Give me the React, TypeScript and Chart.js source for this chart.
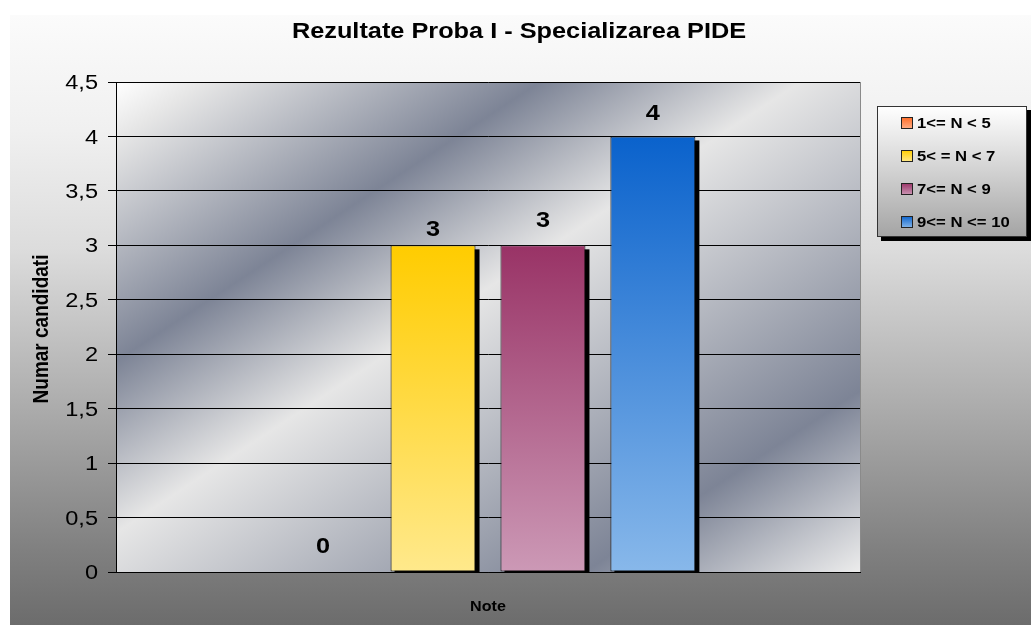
import React, { useEffect, useRef } from "react";
import { Chart, registerables } from "chart.js";

Chart.register(...registerables);

// ---- data ----
const categories = ["Note"];
const seriesLabels = ["1<= N < 5", "5< = N < 7", "7<= N < 9", "9<= N <= 10"];
const seriesValues = [0, 3, 3, 4];
const yMin = 0;
const yMax = 4.5;
const yStep = 0.5;
const titleText = "Rezultate Proba I - Specializarea PIDE";
const yTitleText = "Numar candidati";
const xTitleText = "Note";

// ---- styles ----
const topColors = ["#ff6a24", "#ffcc00", "#993366", "#0a62cc"];
const bottomColors = ["#ffb08a", "#ffe98c", "#cc99b6", "#88b8ea"];
const labelOffsets = [25, 15, 24, 23];
const FONT = '"Liberation Sans", Arial, sans-serif';
const SX = 1.15; // horizontal stretch of the reference text

function stretchedText(
  ctx: CanvasRenderingContext2D,
  text: string,
  x: number,
  y: number,
  font: string,
  align: CanvasTextAlign,
  color = "#000"
) {
  ctx.save();
  ctx.translate(x, y);
  ctx.scale(SX, 1);
  ctx.font = font;
  ctx.fillStyle = color;
  ctx.textAlign = align;
  ctx.textBaseline = "middle";
  ctx.fillText(text, 0, 0);
  ctx.restore();
}

const decorPlugin = {
  id: "decor",
  beforeDraw(chart: any) {
    const ctx: CanvasRenderingContext2D = chart.ctx;
    const W = chart.width;
    const H = chart.height;
    ctx.save();
    ctx.fillStyle = "#ffffff";
    ctx.fillRect(0, 0, W, H);
    const og = ctx.createLinearGradient(0, 15, 0, H);
    og.addColorStop(0, "#fbfbfb");
    og.addColorStop((130 - 15) / (H - 15), "#f0f0f0");
    og.addColorStop((250 - 15) / (H - 15), "#dcdcdc");
    og.addColorStop((550 - 15) / (H - 15), "#808080");
    og.addColorStop(1, "#6c6c6c");
    ctx.fillStyle = og;
    ctx.fillRect(10, 15, W - 10, H - 15);
    const { left, top, right, bottom } = chart.chartArea;
    ctx.translate(left, top);
    ctx.scale(right - left, bottom - top);
    const pg = ctx.createLinearGradient(0, 0, 1, 1);
    pg.addColorStop(0, "#ffffff");
    pg.addColorStop(0.06, "#e6e6e6");
    pg.addColorStop(0.285, "#7d8496");
    pg.addColorStop(0.46, "#e6e6e6");
    pg.addColorStop(0.815, "#7d8496");
    pg.addColorStop(1, "#ececec");
    ctx.fillStyle = pg;
    ctx.fillRect(0, 0, 1, 1);
    ctx.restore();
  },
  beforeDatasetsDraw(chart: any) {
    const ctx: CanvasRenderingContext2D = chart.ctx;
    const { left, top, right, bottom } = chart.chartArea;
    ctx.save();
    ctx.beginPath();
    ctx.rect(left, top, right - left, bottom - top);
    ctx.clip();
    ctx.fillStyle = "#000";
    chart.data.datasets.forEach((ds: any, i: number) => {
      const meta = chart.getDatasetMeta(i);
      meta.data.forEach((bar: any, j: number) => {
        if (!ds.data[j]) return;
        const p = bar.getProps(["x", "y", "base", "width"], true);
        ctx.fillRect(p.x - p.width / 2 + 4, p.y + 4, p.width, p.base - p.y);
      });
    });
    ctx.restore();
  },
  afterDatasetsDraw(chart: any) {
    const ctx: CanvasRenderingContext2D = chart.ctx;
    const { top, right, bottom } = chart.chartArea;
    ctx.save();
    ctx.strokeStyle = "#8a8a8a";
    ctx.lineWidth = 1;
    ctx.beginPath();
    ctx.moveTo(Math.round(right) + 0.5, top);
    ctx.lineTo(Math.round(right) + 0.5, bottom);
    ctx.stroke();
    ctx.restore();
    chart.data.datasets.forEach((ds: any, i: number) => {
      const meta = chart.getDatasetMeta(i);
      meta.data.forEach((bar: any, j: number) => {
        const p = bar.getProps(["x", "y"], true);
        stretchedText(ctx, String(ds.data[j]), p.x, p.y - labelOffsets[i], `bold 22px ${FONT}`, "center");
      });
    });
  },
  afterDraw(chart: any) {
    const ctx: CanvasRenderingContext2D = chart.ctx;
    const { left, right, top, bottom } = chart.chartArea;
    stretchedText(ctx, titleText, 519, 32, `bold 22px ${FONT}`, "center");
    const ys = chart.scales.y;
    ys.ticks.forEach((t: any) => {
      const lbl = String(t.value).replace(".", ",");
      stretchedText(ctx, lbl, left - 18, ys.getPixelForValue(t.value) + 1.5, `20.5px ${FONT}`, "right");
    });
    ctx.save();
    ctx.translate(42, (top + bottom) / 2 + 2);
    ctx.rotate(-Math.PI / 2);
    ctx.scale(1, SX);
    ctx.font = `bold 19px ${FONT}`;
    ctx.fillStyle = "#000";
    ctx.textAlign = "center";
    ctx.textBaseline = "middle";
    ctx.fillText(yTitleText, 0, 0);
    ctx.restore();
    stretchedText(ctx, xTitleText, (left + right) / 2, 607, `bold 14px ${FONT}`, "center");
    const lx = 877, ly = 106, lw = 150, lh = 131;
    ctx.save();
    ctx.fillStyle = "#000";
    ctx.fillRect(lx + 4, ly + 4, lw, lh);
    const lg = ctx.createLinearGradient(0, ly, 0, ly + lh);
    lg.addColorStop(0, "#ffffff");
    lg.addColorStop(1, "#a4a4a4");
    ctx.fillStyle = lg;
    ctx.fillRect(lx, ly, lw, lh);
    ctx.strokeStyle = "#333";
    ctx.lineWidth = 1;
    ctx.strokeRect(lx + 0.5, ly + 0.5, lw - 1, lh - 1);
    chart.data.datasets.forEach((ds: any, i: number) => {
      const ry = 123 + i * 33;
      const sg = ctx.createLinearGradient(0, ry - 6, 0, ry + 6);
      sg.addColorStop(0, topColors[i]);
      sg.addColorStop(1, bottomColors[i]);
      ctx.fillStyle = sg;
      ctx.fillRect(901, ry - 6, 12, 12);
      ctx.strokeStyle = "#222";
      ctx.strokeRect(901.5, ry - 5.5, 11, 11);
      stretchedText(ctx, ds.label, 917, ry + 0.5, `bold 14.5px ${FONT}`, "left");
    });
    ctx.restore();
  },
};

function barFill(i: number) {
  return (c: any) => {
    const chart = c.chart;
    const ys = chart.scales?.y;
    if (c.type !== "data" || !ys) return topColors[i];
    const yTop = ys.getPixelForValue(c.raw);
    const yBot = ys.getPixelForValue(0);
    if (!isFinite(yTop) || !isFinite(yBot) || Math.abs(yBot - yTop) < 1) return topColors[i];
    const g = chart.ctx.createLinearGradient(0, yTop, 0, yBot);
    g.addColorStop(0, topColors[i]);
    g.addColorStop(1, bottomColors[i]);
    return g;
  };
}

export default function App() {
  const ref = useRef<HTMLCanvasElement | null>(null);
  useEffect(() => {
    if (!ref.current) return;
    const chart = new Chart(ref.current, {
      type: "bar",
      data: {
        labels: categories,
        datasets: seriesLabels.map((label, i) => ({
          label,
          data: [seriesValues[i]],
          backgroundColor: barFill(i),
          borderColor: "#111",
          borderWidth: 1,
          borderSkipped: false,
          categoryPercentage: 0.591,
          barPercentage: 0.773,
        })),
      },
      options: {
        responsive: false,
        animation: false,
        devicePixelRatio: 1,
        layout: { padding: { left: 0, right: 171, top: 82, bottom: 0 } },
        plugins: {
          legend: { display: false },
          title: { display: false },
          tooltip: { enabled: false },
        },
        scales: {
          x: {
            ticks: { display: false },
            grid: { display: false },
            border: { display: true, color: "#000", width: 1 },
            afterFit: (s: any) => {
              s.height = 53;
            },
          },
          y: {
            min: yMin,
            max: yMax,
            ticks: { display: false, stepSize: yStep },
            grid: { color: "#000", lineWidth: 1, drawTicks: true, tickLength: 8, tickColor: "#000" },
            border: { display: true, color: "#000", width: 1 },
            afterFit: (s: any) => {
              s.width = 116;
            },
          },
        },
      },
      plugins: [decorPlugin],
    });
    return () => chart.destroy();
  }, []);
  return (
    <div style={{ position: "fixed", left: 0, top: 0, width: 1031, height: 625 }}>
      <canvas ref={ref} width={1031} height={625} style={{ display: "block" }} />
    </div>
  );
}
